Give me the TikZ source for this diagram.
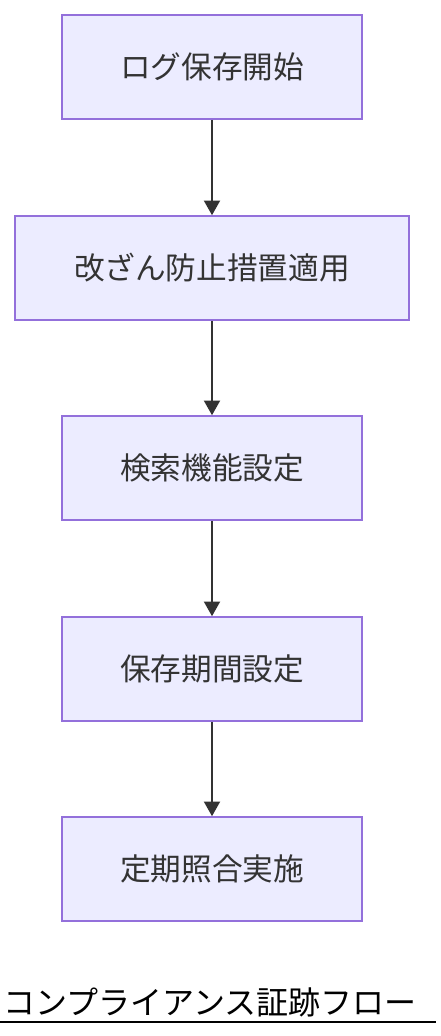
\documentclass[tikz,border=0pt]{standalone}
\usepackage{fontspec}
\setmainfont{Noto Sans CJK JP}
\usetikzlibrary{arrows.meta}
\definecolor{boxfill}{HTML}{ECECFF}
\definecolor{boxline}{HTML}{9370DB}
\definecolor{txt}{HTML}{333333}
\tikzset{
  stepbox/.style={draw=boxline, fill=boxfill, line width=1.2pt, inner sep=0pt,
    text=txt, font=\fontsize{23pt}{27pt}\selectfont},
  flow/.style={draw=txt, line width=1.5pt, -{Triangle[length=11pt,width=12pt]}}
}
\begin{document}
\begin{tikzpicture}[x=0.75pt,y=-0.75pt]
\useasboundingbox (0,0) rectangle (440,1036);
\node[stepbox, minimum width=300*0.75pt, minimum height=104*0.75pt] (a) at (212,67) {\raisebox{2pt}{ログ保存開始}};
\node[stepbox, minimum width=394*0.75pt, minimum height=104*0.75pt] (b) at (212,268) {\raisebox{2pt}{改ざん防止措置適用}};
\node[stepbox, minimum width=300*0.75pt, minimum height=104*0.75pt] (c) at (212,468) {\raisebox{2pt}{検索機能設定}};
\node[stepbox, minimum width=300*0.75pt, minimum height=104*0.75pt] (d) at (212,669) {\raisebox{2pt}{保存期間設定}};
\node[stepbox, minimum width=300*0.75pt, minimum height=104*0.75pt] (e) at (212,869) {\raisebox{2pt}{定期照合実施}};
\draw[flow] (a) -- (b);
\draw[flow] (b) -- (c);
\draw[flow] (c) -- (d);
\draw[flow] (d) -- (e);
\node[anchor=base west, inner sep=0pt, font=\fontsize{24pt}{28pt}\selectfont, text=black] (t) at (3,1014) {コンプライアンス証跡フロー};
\coordinate (l1) at (0,1021.5);
\coordinate (l2) at (436,1021.5);
\draw[line width=1.5pt, black] (l1) -- (l2);
\end{tikzpicture}
\end{document}
